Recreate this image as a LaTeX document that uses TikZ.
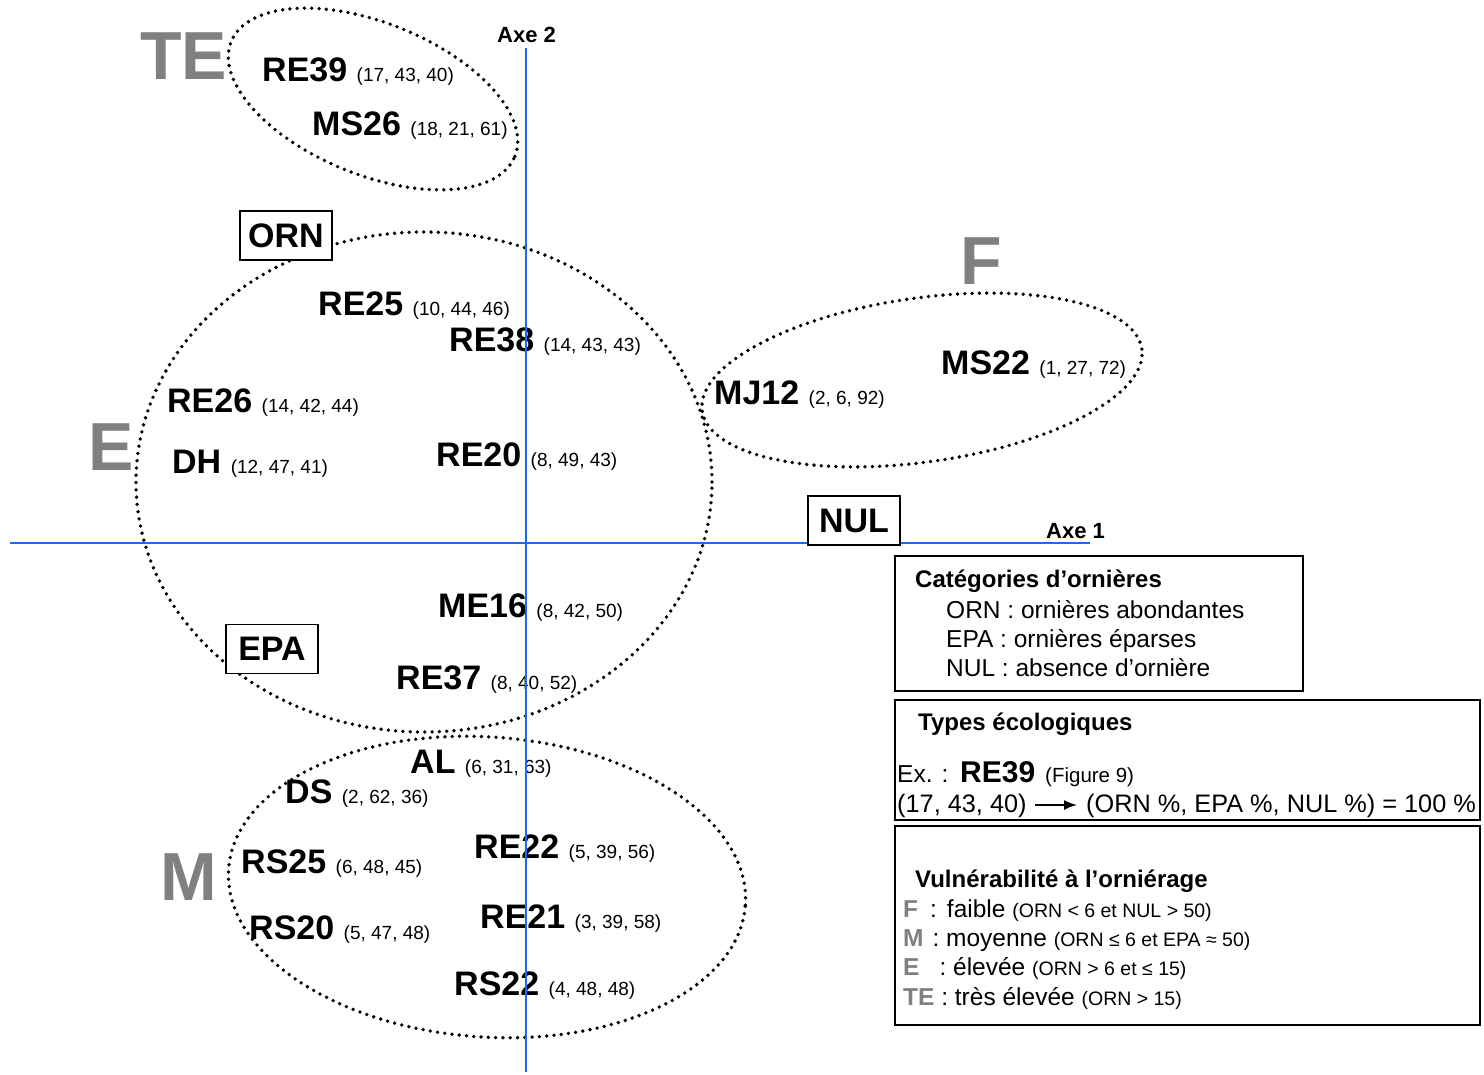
\documentclass[tikz,border=0pt]{standalone}
\usepackage{fontspec}
\setmainfont{Liberation Sans}
\usetikzlibrary{arrows.meta}
\definecolor{axisblue}{RGB}{20,110,245}
\definecolor{vgray}{RGB}{128,128,128}
\newcommand\labfont{\fontsize{34}{40}\selectfont\bfseries}
\newcommand\crdfont{\fontsize{19}{23}\selectfont\mdseries}
\newcommand\gradefont{\fontsize{68}{80}\selectfont\bfseries}
\newcommand\axefont{\fontsize{22}{26}\selectfont\bfseries}
\newcommand\legfont{\fontsize{24.5}{29}\selectfont}
\newcommand\legbold{\fontsize{24}{29}\selectfont\bfseries}
\newcommand\parfont{\fontsize{19.5}{23}\selectfont}
\newcommand\gl[1]{{\color{vgray}\bfseries #1}}
\begin{document}
\begin{tikzpicture}[x=1pt,y=1pt,
  site/.style={anchor=base west, inner sep=0pt, font=\labfont},
  grade/.style={anchor=base west, inner sep=0pt, font=\gradefont, text=vgray},
  axelabel/.style={anchor=base west, inner sep=0pt, font=\axefont},
  tagbox/.style={draw, line width=1.5pt, fill=white, inner sep=0pt, font=\labfont,
                 minimum width=92pt, minimum height=49pt},
  axisline/.style={draw=axisblue, line width=2.4pt},
  group/.style={line width=3.8pt, line cap=round, dash pattern=on 0pt off 7.3pt},
  legbox/.style={draw, line width=1.8pt, inner sep=0pt},
  legtxt/.style={anchor=base west, inner sep=0pt, font=\legfont},
  legtitle/.style={anchor=base west, inner sep=0pt, font=\legbold}]
\useasboundingbox (0,0) rectangle (1484,-1075);

% vulnerability groups (dotted envelopes)
\draw[group, rotate around={-22:(373,-99)}] (373,-99) ellipse [x radius=153, y radius=76];
\draw[group] (424,-482) ellipse [x radius=288, y radius=250];
\draw[group, rotate around={8:(922,-380)}] (922,-380) ellipse [x radius=222, y radius=82];
\draw[group, rotate around={-4:(487,-887)}] (487,-887) ellipse [x radius=259, y radius=150];

% group letters
\node[grade] (gTE) at (140,-80) {TE};
\node[grade] (gE)  at (88,-470) {E};
\node[grade] (gF)  at (960,-285) {F};
\node[grade] (gM)  at (160,-900) {M};

% ecological types with (ORN, EPA, NUL) percentages
\node[site] (re39) at (262,-82)  {RE39 {\crdfont (17, 43, 40)}};
\node[site] (ms26) at (312,-136) {MS26 {\crdfont (18, 21, 61)}};
\node[site] (re25) at (318,-316) {RE25 {\crdfont (10, 44, 46)}};
\node[site] (re38) at (449,-352) {RE38 {\crdfont (14, 43, 43)}};
\node[site] (re26) at (167,-413) {RE26 {\crdfont (14, 42, 44)}};
\node[site] (dh)   at (172,-473) {DH {\crdfont (12, 47, 41)}};
\node[site] (re20) at (436,-466) {RE20 {\crdfont (8, 49, 43)}};
\node[site] (mj12) at (714,-405) {MJ12 {\crdfont (2, 6, 92)}};
\node[site] (ms22) at (941,-374) {MS22 {\crdfont (1, 27, 72)}};
\node[site] (me16) at (438,-617) {ME16 {\crdfont (8, 42, 50)}};
\node[site] (re37) at (396,-689) {RE37 {\crdfont (8, 40, 52)}};
\node[site] (al)   at (410,-773) {AL {\crdfont (6, 31, 63)}};
\node[site] (ds)   at (285,-803) {DS {\crdfont (2, 62, 36)}};
\node[site] (re22) at (474,-858) {RE22 {\crdfont (5, 39, 56)}};
\node[site] (rs25) at (241,-873) {RS25 {\crdfont (6, 48, 45)}};
\node[site] (re21) at (480,-928) {RE21 {\crdfont (3, 39, 58)}};
\node[site] (rs20) at (249,-939) {RS20 {\crdfont (5, 47, 48)}};
\node[site] (rs22) at (454,-995) {RS22 {\crdfont (4, 48, 48)}};

% factorial axes
\coordinate (a2top) at (526,-48);
\coordinate (a2bot) at (526,-1072);
\coordinate (a1left) at (10,-543);
\coordinate (a1right) at (1090,-543);
\draw[axisline] (a2top) -- (a2bot);
\draw[axisline] (a1left) -- (a1right);
\node[axelabel] (axe2) at (497,-43) {Axe 2};
\node[axelabel] (axe1) at (1046,-538) {Axe 1};

% rut categories
\node[tagbox] (orn) at (286,-235.5) {ORN};
\node[tagbox] (nul) at (854,-520.5) {NUL};
\node[tagbox] (epa) at (272,-649) {EPA};

% legend: rut categories
\node[legbox, minimum width=408pt, minimum height=135pt] (leg1) at (1099,-623.5) {};
\node[legtitle] (leg1t) at (915,-587) {Catégories d’ornières};
\node[legtxt] (leg1a) at (946,-618) {ORN : ornières abondantes};
\node[legtxt] (leg1b) at (946,-647) {EPA : ornières éparses};
\node[legtxt] (leg1c) at (946,-676) {NUL : absence d’ornière};

% legend: ecological types
\node[legbox, minimum width=585pt, minimum height=120pt] (leg2) at (1187.5,-760) {};
\node[legtitle] (leg2t) at (918,-730) {Types écologiques};
\node[legtxt] (leg2ex) at (897,-782) {Ex. :};
\node[site, font=\fontsize{30}{36}\selectfont\bfseries] (leg2re) at (960,-782) {RE39};
\node[legtxt, font=\fontsize{20.5}{24}\selectfont] (leg2fig) at (1045,-782) {(Figure 9)};
\node[legtxt, font=\fontsize{25.3}{30}\selectfont] (leg2a) at (897,-812) {(17, 43, 40)};
\node[legtxt, font=\fontsize{25.3}{30}\selectfont] (leg2b) at (1086,-812) {(ORN \%, EPA \%, NUL \%) = 100 \%};
\coordinate (arrS) at (1035,-805);
\coordinate (arrE) at (1077,-805);
\draw[line width=1.8pt, -{Latex[length=13pt,width=10pt]}] (arrS) -- (arrE);

% legend: vulnerability
\node[legbox, minimum width=585pt, minimum height=199pt] (leg3) at (1187.5,-925.5) {};
\node[legtitle] (leg3t) at (915,-887) {Vulnérabilité à l’orniérage};
\node[legtxt] (leg3f) at (903,-917) {\gl{F}\hspace{12pt}:\hspace{10pt}faible {\parfont (ORN < 6 et NUL > 50)}};
\node[legtxt] (leg3m) at (903,-946) {\gl{M}\hspace{9pt}: moyenne {\parfont (ORN ≤ 6 et EPA ≈ 50)}};
\node[legtxt] (leg3e) at (903,-975) {\gl{E}\hspace{20pt}: élevée {\parfont (ORN > 6 et ≤ 15)}};
\node[legtxt] (leg3te) at (903,-1005) {\gl{TE} : très élevée {\parfont (ORN > 15)}};
\end{tikzpicture}
\end{document}
